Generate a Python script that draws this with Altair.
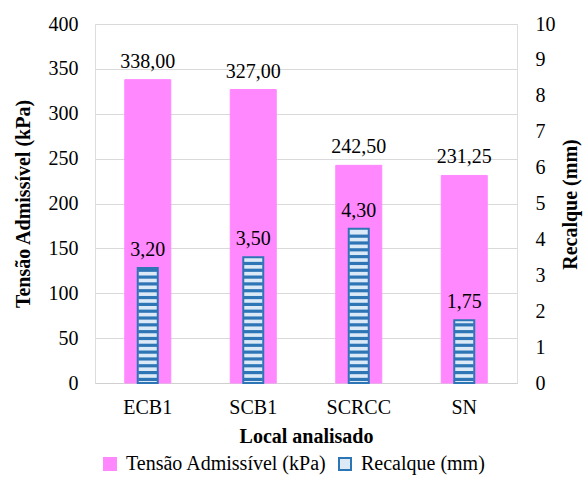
import altair as alt
import pandas as pd

locais = ["ECB1", "SCB1", "SCRCC", "SN"]
tensao = [338.00, 327.00, 242.50, 231.25]
recalque = [3.20, 3.50, 4.30, 1.75]

s1 = "Tensão Admissível (kPa)"
s2 = "Recalque (mm)"

df = pd.DataFrame({"local": locais, "tensao": tensao, "recalque": recalque,
                   "s1": [s1] * 4})

FONT = "Liberation Serif"
FS = 20
PINK = "#ff88ff"
BLUE = "#2e75b6"

x = alt.X("local:N", sort=locais, title="Local analisado",
          scale=alt.Scale(paddingInner=0.56, paddingOuter=0.28),
          axis=alt.Axis(labelAngle=0, labelFontSize=FS, labelFont=FONT,
                        labelColor="#000", titleFont=FONT, titleFontSize=FS,
                        titleFontWeight="bold", titleColor="#000",
                        domainColor="#d0d0d0", ticks=False, labelPadding=14,
                        titlePadding=9))

base = alt.Chart(df)

yl_scale = alt.Scale(domain=[0, 400])
yl = alt.Y("tensao:Q", title="Tensão Admissível (kPa)", scale=yl_scale,
           axis=alt.Axis(values=list(range(0, 401, 50)), labelFontSize=FS,
                         labelFont=FONT, labelColor="#000", titleFont=FONT,
                         titleFontSize=FS, titleFontWeight="bold",
                         titleColor="#000", domain=False, ticks=False,
                         labelOverlap=False,
                         gridColor="#d9d9d9", labelPadding=17, titlePadding=15))

legend = alt.Legend(orient="none", legendX=5, legendY=430, direction="horizontal",
                    title=None, labelFont=FONT, labelFontSize=FS,
                    labelColor="#000", labelLimit=0, symbolType="square",
                    symbolSize=144, symbolStrokeWidth=2, columnPadding=8,
                    labelOffset=6)

pink = base.mark_bar(size=46).encode(
    x=x, y=yl,
    fill=alt.Fill("s1:N", scale=alt.Scale(domain=[s1, s2], range=[PINK, "#dceaf7"]),
                  legend=legend),
    stroke=alt.Stroke("s1:N", scale=alt.Scale(domain=[s1, s2], range=[PINK, BLUE]),
                      legend=legend),
)

pink_lbl = base.transform_calculate(
    t="replace(format(datum.tensao, '.2f'), '.', ',')"
).mark_text(dy=-18, font=FONT, fontSize=FS, color="#000").encode(
    x=x, y=yl, text="t:N")

left = alt.layer(pink, pink_lbl)

yr_scale = alt.Scale(domain=[0, 10])
yr_axis = alt.Axis(orient="right", values=[0, 1, 2, 3, 4, 5, 6, 7, 8, 9, 10],
                   format="d",
                   labelFontSize=FS, labelFont=FONT, labelColor="#000",
                   titleFont=FONT, titleFontSize=FS, titleFontWeight="bold",
                   titleColor="#000", domain=False, ticks=False, grid=False,
                   labelOverlap=False, labelSeparation=0, titleAngle=270,
                   titleX=53, titleY=180, titleAlign="center",
                   titleBaseline="middle",
                   labelPadding=18, titlePadding=8)
yr = alt.Y("recalque:Q", title="Recalque (mm)", scale=yr_scale, axis=yr_axis)

blue = base.mark_bar(size=20, fill="#dceaf7", stroke=BLUE, strokeWidth=2).encode(x=x, y=yr)

stripes = base.transform_calculate(
    st="sequence(0.1, datum.recalque - 0.05, 0.19)"
).transform_flatten(["st"]).mark_tick(
    orient="horizontal", size=19, thickness=3.2, color=BLUE, opacity=1
).encode(x=x, y=alt.Y("st:Q", scale=yr_scale, title="Recalque (mm)", axis=yr_axis))

blue_lbl = base.transform_calculate(
    t="replace(format(datum.recalque, '.2f'), '.', ',')"
).mark_text(dy=-18, font=FONT, fontSize=FS, color="#000").encode(
    x=x, y=yr, text="t:N")

right = alt.layer(blue, stripes, blue_lbl)

chart = alt.layer(left, right).resolve_scale(y="independent").properties(
    width=422, height=359,
    autosize=alt.AutoSizeParams(type="none"),
    padding={"left": 95, "right": 67, "top": 24, "bottom": 94},
).configure_view(strokeWidth=0).configure_axis(labelOverlap=False).configure(background="white")

chart.save("out.html", embed_options={"renderer": "svg", "actions": False})
